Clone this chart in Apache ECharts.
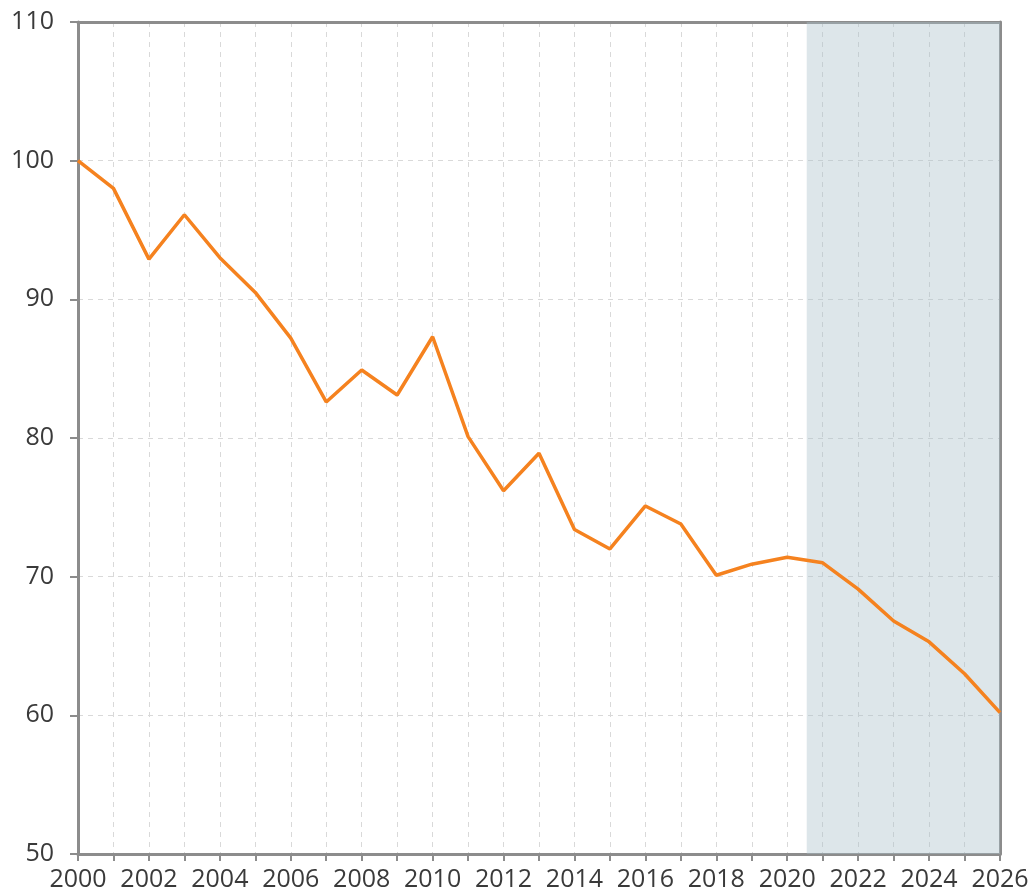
<!DOCTYPE html>
<html>
<head>
<meta charset="utf-8">
<script src="https://cdn.jsdelivr.net/npm/echarts@6/dist/echarts.min.js"></script>
<style>
  html, body { margin: 0; padding: 0; background: #fff; }
  #chart { width: 1035px; height: 892px; }
</style>
</head>
<body>
<div id="chart"></div>
<script>
// years on the x axis
var years = [2000, 2001, 2002, 2003, 2004, 2005, 2006, 2007, 2008, 2009, 2010, 2011, 2012, 2013,
  2014, 2015, 2016, 2017, 2018, 2019, 2020, 2021, 2022, 2023, 2024, 2025, 2026]
// index values (2000 = 100)
var values = [100.0, 98.0, 92.9, 96.1, 93.0, 90.5, 87.2, 82.6, 84.9, 83.1, 87.3, 80.1, 76.2, 78.9,
  73.4, 72.0, 75.1, 73.8, 70.1, 70.9, 71.4, 71.0, 69.1, 66.8, 65.3, 63.0, 60.2]
// shaded forecast band
var forecastBand = [2020.55, 2026]

var chart = echarts.init(document.getElementById('chart'))

var axisColor = '#8c8c8c'
var textColor = '#3a3a3a'
var font = 'Open Sans'
var gridLine = { show: true, lineStyle: { color: '#d9d9d9', type: [5, 5], width: 1 } }

var option = {
  animation: false,
  grid: { left: 78, right: 35, top: 22, bottom: 37 },
  xAxis: [{
    type: 'value',
    min: 2000,
    max: 2026,
    interval: 1,
    axisLine: { lineStyle: { color: axisColor, width: 3 } },
    axisTick: { show: true, length: 7, lineStyle: { color: axisColor, width: 2 } },
    axisLabel: {
      color: textColor,
      fontFamily: font,
      fontWeight: 500,
      fontSize: 25,
      margin: 13,
      formatter: function (v) { return v % 2 === 0 ? String(v) : '' }
    },
    splitLine: gridLine
  }, {
    // top frame
    type: 'value',
    position: 'top',
    min: 2000,
    max: 2026,
    axisLine: { show: true, onZero: false, lineStyle: { color: axisColor, width: 3 } },
    axisTick: { show: false },
    axisLabel: { show: false },
    splitLine: { show: false }
  }],
  yAxis: [{
    type: 'value',
    min: 50,
    max: 110,
    interval: 10,
    axisLine: { show: true, lineStyle: { color: axisColor, width: 3 } },
    axisTick: { show: true, length: 8, lineStyle: { color: axisColor, width: 2 } },
    axisLabel: {
      color: textColor,
      fontFamily: font,
      fontWeight: 500,
      fontSize: 25,
      margin: 24
    },
    splitLine: gridLine
  }, {
    // right frame
    type: 'value',
    position: 'right',
    min: 50,
    max: 110,
    axisLine: { show: true, onZero: false, lineStyle: { color: axisColor, width: 3 } },
    axisTick: { show: false },
    axisLabel: { show: false },
    splitLine: { show: false }
  }],
  series: [{
    type: 'line',
    data: years.map(function (y, i) { return [y, values[i]] }),
    showSymbol: false,
    lineStyle: { color: '#f5821f', width: 3.5 },
    itemStyle: { color: '#f5821f' },
    z: 3,
    markArea: {
      silent: true,
      itemStyle: { color: 'rgba(170,192,202,0.4)' },
      data: [[{ xAxis: forecastBand[0] }, { xAxis: forecastBand[1] }]]
    }
  }]
}

chart.setOption(option)
</script>
</body>
</html>
